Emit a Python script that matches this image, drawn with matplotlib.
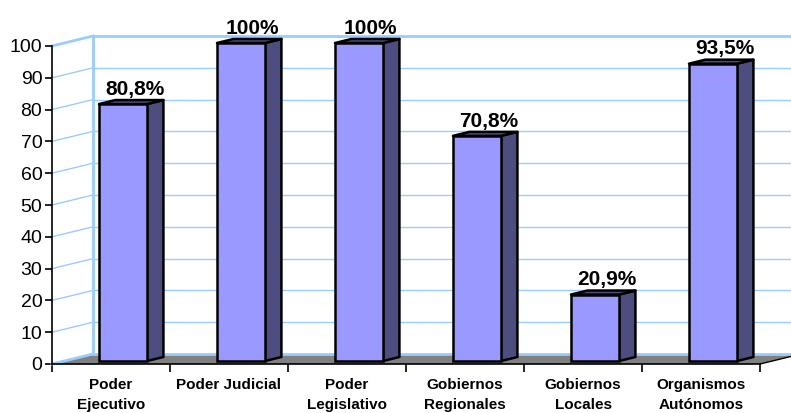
import matplotlib.pyplot as plt
from matplotlib.patches import Polygon

categorias = ['Poder\nEjecutivo', 'Poder Judicial', 'Poder\nLegislativo',
              'Gobiernos\nRegionales', 'Gobiernos\nLocales', 'Organismos\nAutónomos']
valores = [80.8, 100, 100, 70.8, 20.9, 93.5]
etiquetas = ['80,8%', '100%', '100%', '70,8%', '20,9%', '93,5%']
yticks = [0, 10, 20, 30, 40, 50, 60, 70, 80, 90, 100]

plt.rcParams['font.family'] = ['Liberation Sans', 'DejaVu Sans']

fig = plt.figure(figsize=(7.91, 4.13), dpi=100)
ax = fig.add_axes([52/791, 49/413, 708/791, 318/413])
ax.set_xlim(0, 6)
ax.set_ylim(0, 100)

# profundidad del efecto 3D (en unidades de datos)
DX = 41/118
DY = 10/3.18
grid_c = '#99ccff'

# pared lateral y de fondo
for v in yticks:
    lw = 2 if v == 100 else 1
    ax.plot([0, DX], [v, v + DY], color=grid_c, lw=lw, clip_on=False, zorder=1)
    if v > 0:
        ax.plot([DX, 6 + DX], [v + DY, v + DY], color=grid_c, lw=lw, clip_on=False, zorder=1)
ax.plot([DX, DX], [DY, 100 + DY], color=grid_c, lw=2, clip_on=False, zorder=1)

# piso
piso = Polygon([(0, 0), (6, 0), (6 + DX, DY), (DX, DY)], closed=True,
               facecolor='#808080', edgecolor='none', clip_on=False, zorder=2)
ax.add_patch(piso)
ax.plot([DX, 6 + DX], [DY, DY], color=grid_c, lw=2, clip_on=False, zorder=2)
ax.plot([0, DX], [0, DY], color=grid_c, lw=2, clip_on=False, zorder=2)

# barras
f0, f1 = 0.3, 0.7
w = 0.407
x0s = [i + (99 - 52)/118 for i in range(6)]
ax.bar(x0s, valores, width=w, bottom=f0*DY, align='edge', color='#9999ff',
       edgecolor='black', lw=1.8, zorder=4, clip_on=False)
for x0, v, lab in zip(x0s, valores, etiquetas):
    xr = x0 + w
    lado = Polygon([(xr, f0*DY), (xr + (f1-f0)*DX, f1*DY),
                    (xr + (f1-f0)*DX, v + f1*DY), (xr, v + f0*DY)],
                   closed=True, facecolor='#4d4d80', edgecolor='black', lw=1.8,
                   joinstyle='round', zorder=3, clip_on=False)
    tapa = Polygon([(x0, v + f0*DY), (xr, v + f0*DY),
                    (xr + (f1-f0)*DX, v + f1*DY), (x0 + (f1-f0)*DX, v + f1*DY)],
                   closed=True, facecolor='#4d4d80', edgecolor='black', lw=1.8,
                   joinstyle='round', zorder=3, clip_on=False)
    ax.add_patch(lado)
    ax.add_patch(tapa)
    ax.text(x0 + w/2 + 0.1, v + f1*DY + 0.4, lab, ha='center', va='bottom',
            fontsize=15, fontweight='bold', zorder=5)

# ejes
for s in ['top', 'right']:
    ax.spines[s].set_visible(False)
ax.spines['left'].set_linewidth(1.2)
ax.spines['bottom'].set_linewidth(1.2)
ax.spines['left'].set_zorder(6)
ax.spines['bottom'].set_zorder(6)
ax.plot([6, 6 + DX], [0, DY], color='black', lw=1, clip_on=False, zorder=6)

ax.set_yticks(yticks)
ax.set_yticklabels([str(v) for v in yticks], fontsize=14)
ax.tick_params(axis='y', length=5, width=1.2, direction='out', pad=2)
ax.set_xticks(range(7))
ax.set_xticklabels([])
ax.set_xticks([i + 0.5 for i in range(6)], minor=True)
ax.set_xticklabels(categorias, minor=True, fontsize=11, fontweight='bold',
                   linespacing=1.6)
ax.tick_params(axis='x', which='major', length=6, width=1.2, direction='out')
ax.tick_params(axis='x', which='minor', length=0, pad=10)

plt.savefig('out.png', dpi=100)
